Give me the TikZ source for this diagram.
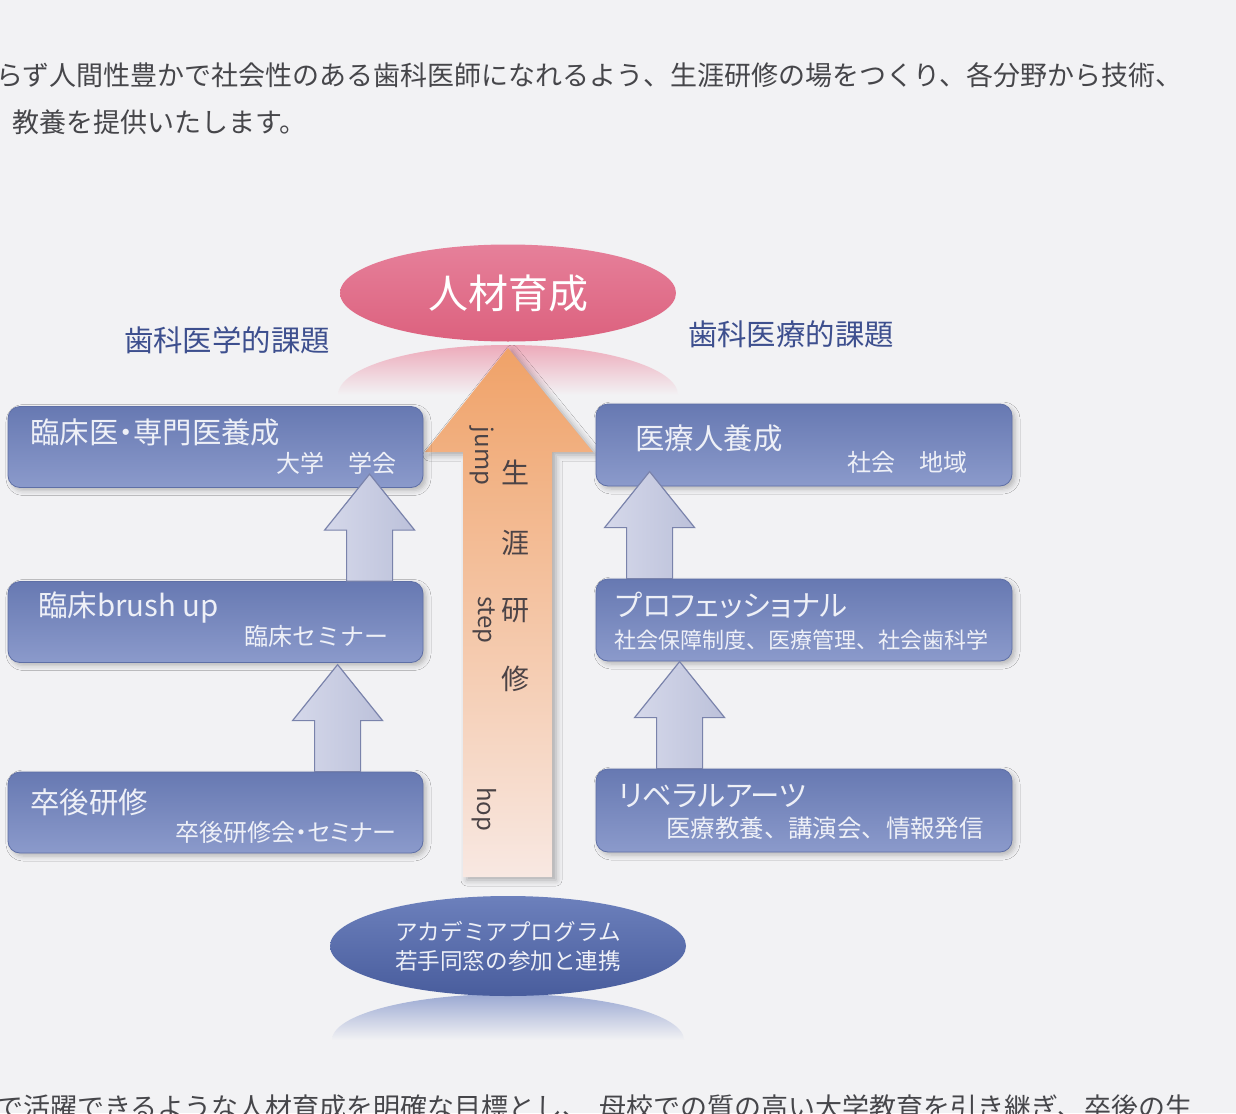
\documentclass[tikz,border=0pt]{standalone}
\usepackage{fontspec}
\setmainfont{Noto Sans CJK JP}
\newfontfamily\jpp{Noto Sans CJK JP}[RawFeature=+palt]
\usetikzlibrary{shapes.geometric,shadows.blur,calc}
\definecolor{bg}{HTML}{F2F2F4}
\definecolor{txt}{HTML}{46464A}
\definecolor{head}{HTML}{3D4F8E}
\definecolor{pinkref}{HTML}{EDAABA}
\definecolor{goalTop}{HTML}{E6809A}
\definecolor{goalBot}{HTML}{DC617E}
\definecolor{orTop}{HTML}{F0A268}
\definecolor{orBot}{HTML}{F8E8E2}
\definecolor{boxtop}{HTML}{6779B2}
\definecolor{boxbot}{HTML}{8B9ACB}
\definecolor{boxedge}{HTML}{5E6FA6}
\definecolor{arrL}{HTML}{D5D8EA}
\definecolor{arrR}{HTML}{BCC1DA}
\definecolor{arrEdge}{HTML}{7A83AB}
\definecolor{acadTop}{HTML}{6C80BC}
\definecolor{acadBot}{HTML}{495D9D}
\definecolor{blueref}{HTML}{9AA8D2}
\definecolor{inbox}{HTML}{EEF0F7}
\definecolor{arrowtxt}{HTML}{4B4346}
\newcommand\fsz[1]{\fontsize{#1}{#1}\selectfont}
\tikzset{
  toptext/.style={text=txt, font=\fsz{13.5}, inner sep=0pt, anchor=west},
  head/.style={text=head, font=\fsz{14.7}, inner sep=0pt},
  box/.style={rounded corners=6pt, draw=boxedge, line width=0.4pt,
    top color=boxtop, bottom color=boxbot, minimum width=207.5pt,
    minimum height=40.5pt, inner sep=0pt,
    blur shadow={shadow xshift=1.5pt, shadow yshift=-1.5pt, shadow blur radius=2.5pt, shadow opacity=25}},
  ttl/.style={text=inbox, font=\jpp\fsz{14.7}, inner sep=0pt, anchor=west},
  sub/.style={text=inbox, font=\fsz{12}, inner sep=0pt, anchor=east},
  arrowbody/.style={draw=arrEdge, line width=0.6pt, left color=arrL, right color=arrR},
  uparr/.pic={\path[arrowbody] (-23,0) -- (-23,-51) -- (-45,-51) -- (0,-107) -- (45,-51) -- (23,-51) -- (23,0) -- cycle;},
  vword/.style={text=arrowtxt, font=\fsz{12}, inner sep=0pt, rotate=-90},
  vkanji/.style={text=arrowtxt, font=\fsz{14}, inner sep=0pt}
}
\begin{document}
\begin{tikzpicture}[x=0.5pt,y=-0.5pt]
\useasboundingbox (0,0) rectangle (1236,1113);
\fill[bg] (0,0) rectangle (1236,1113);

% top paragraph
\node[toptext] (t1) at (-4,75) {らず人間性豊かで社会性のある歯科医師になれるよう、生涯研修の場をつくり、各分野から技術、};
\node[toptext] (t2) at (12,122) {教養を提供いたします。};

% pink reflection (upper half ellipse fading downwards)
\shade[top color=pinkref, bottom color=bg]
  (338,395) arc[start angle=180, end angle=360, x radius=170, y radius=50] -- cycle;

% blue reflection
\shade[top color=blueref, bottom color=bg]
  (332,1040) arc[start angle=180, end angle=360, x radius=176, y radius=46] -- cycle;

% central orange arrow
\path[top color=orTop, bottom color=orBot,
  blur shadow={shadow xshift=2pt, shadow yshift=-1.5pt, shadow blur radius=3pt, shadow opacity=30}]
  (463,877) -- (463,452) -- (425,452) -- (508,348) -- (593,452) -- (552,452) -- (552,877) -- cycle;

\node[vword] (jump) at (482,456) {jump};
\node[vword] (step) at (484,620) {step};
\node[vword] (hop) at (484,809) {hop};
\node[vkanji] (k1) at (515,472) {生};
\node[vkanji] (k2) at (515,543) {涯};
\node[vkanji] (k3) at (515,611) {研};
\node[vkanji] (k4) at (515,679) {修};

% goal ellipse
\node[ellipse, inner sep=0pt, minimum width=168pt, minimum height=48.5pt,
  top color=goalTop, bottom color=goalBot, text=white, font=\fsz{20}] (goal) at (508,293) {人材育成};

% headings
\node[head] (hl) at (227,340) {歯科医学的課題};
\node[head] (hr) at (791,334) {歯科医療的課題};

% left boxes
\node[box] (L1) at (215.5,447) {};
\node[box] (L2) at (215.5,622) {};
\node[box] (L3) at (215.5,812.5) {};
% right boxes
\node[box, minimum width=208pt, minimum height=41pt] (R1) at (804,445) {};
\node[box, minimum width=208pt, minimum height=41pt] (R2) at (804,620) {};
\node[box, minimum width=208pt, minimum height=41.5pt] (R3) at (804,810.5) {};

% box texts
\node[ttl] (L1t) at (30,432) {臨床医・専門医養成};
\node[sub] (L1s) at (397,463) {大学　学会};
\node[ttl] (L2t) at (38,607) {臨床brush up};
\node[sub] (L2s) at (389,636) {臨床セミナー};
\node[ttl] (L3t) at (30,802) {卒後研修};
\node[sub, font=\jpp\fsz{12}] (L3s) at (397,832) {卒後研修会・セミナー};
\node[ttl] (R1t) at (635,438) {医療人養成};
\node[sub] (R1s) at (968,462) {社会　地域};
\node[ttl] (R2t) at (615,605) {プロフェッショナル};
\node[sub, font=\fsz{11}] (R2s) at (989,640) {社会保障制度、医療管理、社会歯科学};
\node[ttl] (R3t) at (618,796) {リベラルアーツ};
\node[sub, font=\fsz{12.2}] (R3s) at (984,828) {医療教養、講演会、情報発信};

% block arrows between boxes
\pic at ($(L2.north west)+(362,0)$) {uparr};
\pic at ($(L3.north west)+(330,0)$) {uparr};
\pic at ($(R2.north west)+(54,0)$) {uparr};
\pic at ($(R3.north west)+(84,0)$) {uparr};

% academia ellipse
\node[ellipse, inner sep=0pt, minimum width=178pt, minimum height=50pt,
  top color=acadTop, bottom color=acadBot, text=inbox, align=center,
  font=\fontsize{11.3}{14.5}\selectfont] (acad) at (508,946) {アカデミアプログラム\\若手同窓の参加と連携};

% bottom paragraph (cut off by the page edge, as in the reference)
\node[toptext] (t3) at (-4,1107) {で活躍できるような人材育成を明確な目標とし、\hspace{5pt}母校での質の高い大学教育を引き継ぎ、卒後の生};
\end{tikzpicture}
\end{document}
